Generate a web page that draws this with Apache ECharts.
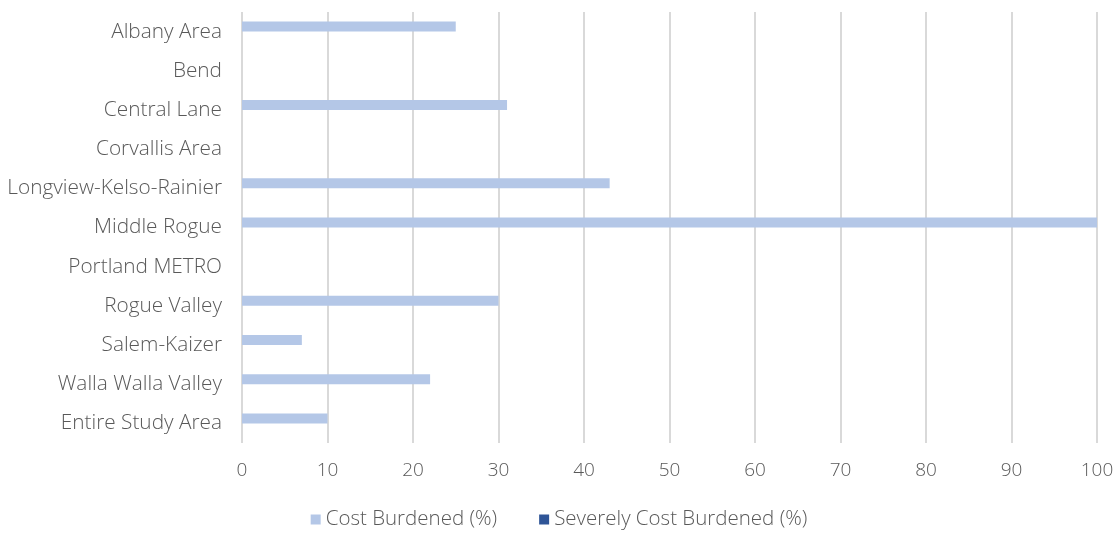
<!DOCTYPE html>
<html><head><meta charset="utf-8">
<script src="https://cdn.jsdelivr.net/npm/echarts@6/dist/echarts.min.js"></script>
<style>html,body{margin:0;padding:0;background:#fff}#c{width:1118px;height:535px}</style>
</head><body><div id="c"></div>
<script>
const categories = ["Albany Area","Bend","Central Lane","Corvallis Area","Longview-Kelso-Rainier","Middle Rogue","Portland METRO","Rogue Valley","Salem-Kaizer","Walla Walla Valley","Entire Study Area"];
const costBurdened = [25, 0, 31, 0, 43, 100, 0, 30, 7, 22, 10];
const severelyCostBurdened = [0, 0, 0, 0, 0, 0, 0, 0, 0, 0, 0];
const xTicks = [0,10,20,30,40,50,60,70,80,90,100];

const chart = echarts.init(document.getElementById('c'));
const font = '"Open Sans", sans-serif';
chart.setOption({
  animation: false,
  textStyle: {fontFamily: font},
  grid: {left: 242, right: 21, top: 12, bottom: 92, containLabel: false},
  legend: {
    bottom: 0, left: 'center',
    itemWidth: 10, itemHeight: 10, itemGap: 42,
    icon: 'rect',
    textStyle: {fontSize: 20.5, color: '#595959', fontFamily: font, fontWeight: 300},
    data: ['Cost Burdened (%)', 'Severely Cost Burdened (%)']
  },
  xAxis: {
    type: 'value', min: xTicks[0], max: xTicks[xTicks.length-1], interval: 10,
    axisLine: {show: false}, axisTick: {show: false},
    splitLine: {show: true, lineStyle: {color: '#D9D9D9', width: 2}},
    axisLabel: {fontSize: 19, color: '#595959', margin: 18, fontWeight: 300}
  },
  yAxis: {
    type: 'category', data: categories, inverse: true,
    axisLine: {show: false}, axisTick: {show: false},
    axisLabel: {fontSize: 20.8, color: '#595959', margin: 20, fontWeight: 300}
  },
  series: [
    {name: 'Cost Burdened (%)', type: 'bar', data: costBurdened, barWidth: 10, barGap: '0%',
     itemStyle: {color: '#B4C7E7'}},
    {name: 'Severely Cost Burdened (%)', type: 'bar', data: severelyCostBurdened, barWidth: 10, barGap: '0%',
     itemStyle: {color: '#2F5597'}}
  ]
});
</script></body></html>
